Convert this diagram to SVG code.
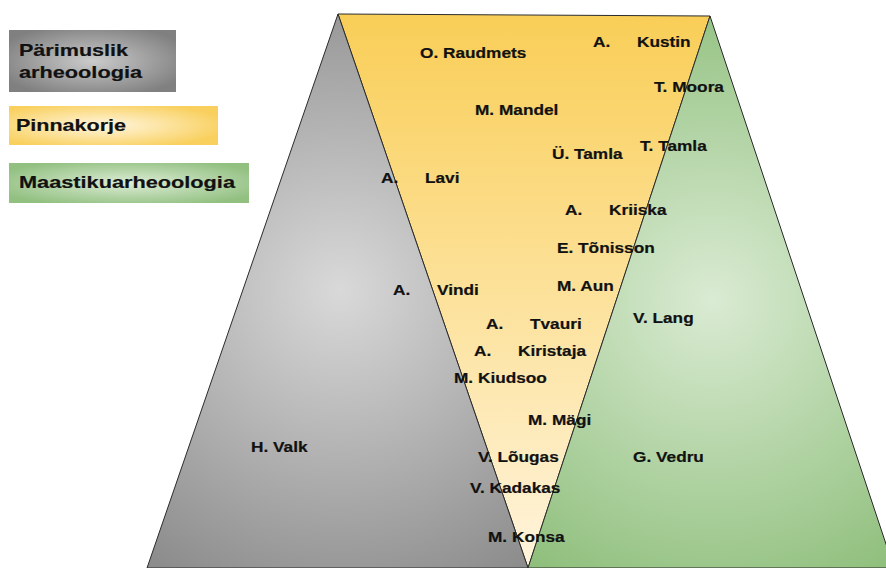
<svg xmlns="http://www.w3.org/2000/svg" width="886" height="568" viewBox="0 0 886 568">
<defs>
<radialGradient id="gGray" cx="340" cy="290" r="330" gradientUnits="userSpaceOnUse">
<stop offset="0" stop-color="#D9D9D9"/><stop offset="1" stop-color="#8C8C8C"/>
</radialGradient>
<linearGradient id="gYellow" x1="0" y1="14" x2="0" y2="568" gradientUnits="userSpaceOnUse">
<stop offset="0" stop-color="#F9CE57"/><stop offset="1" stop-color="#FFF4DC"/>
</linearGradient>
<radialGradient id="gGreen" cx="712" cy="300" r="320" gradientUnits="userSpaceOnUse">
<stop offset="0" stop-color="#DAEBD3"/><stop offset="1" stop-color="#8FBF7C"/>
</radialGradient>
<radialGradient id="lGray" cx="0.5" cy="0.5" r="0.6">
<stop offset="0" stop-color="#CBCBCB"/><stop offset="1" stop-color="#808080"/>
</radialGradient>
<radialGradient id="lYellow" cx="0.45" cy="0.5" r="0.6">
<stop offset="0" stop-color="#FFF6E0"/><stop offset="1" stop-color="#F9D05E"/>
</radialGradient>
<radialGradient id="lGreen" cx="0.5" cy="0.5" r="0.6">
<stop offset="0" stop-color="#DDEDD6"/><stop offset="1" stop-color="#92C081"/>
</radialGradient>
</defs>
<style>
.tri{stroke:#2b2b2b;stroke-width:1}
.lbl{font-family:"Liberation Sans",Arial,sans-serif;font-weight:bold;font-size:15px;fill:#111;stroke:#111;stroke-width:0.2}
.leg{font-family:"Liberation Sans",Arial,sans-serif;font-weight:bold;font-size:17px;fill:#111;stroke:#111;stroke-width:0.2}
</style>
<g id="pinnakorje-triangle"><polygon class="tri" points="338,14 710,16 528,568" fill="url(#gYellow)"/></g>
<g id="parimuslik-triangle"><polygon class="tri" points="338,14 147,568 528,568" fill="url(#gGray)"/></g>
<g id="maastik-triangle"><polygon class="tri" points="710,16 528,568 894,568" fill="url(#gGreen)"/></g>

<g id="legend-parimuslik">
<rect x="9" y="30" width="167" height="62" fill="url(#lGray)"/>
<text class="leg" x="19" y="56" textLength="109" lengthAdjust="spacingAndGlyphs">Pärimuslik</text>
<text class="leg" x="19" y="78" textLength="123" lengthAdjust="spacingAndGlyphs">arheoologia</text>
</g>
<g id="legend-pinnakorje">
<rect x="9" y="106" width="209" height="39" fill="url(#lYellow)"/>
<text class="leg" x="16" y="131" textLength="110" lengthAdjust="spacingAndGlyphs">Pinnakorje</text>
</g>
<g id="legend-maastik">
<rect x="9" y="163" width="240" height="40" fill="url(#lGreen)"/>
<text class="leg" x="19" y="188" textLength="216" lengthAdjust="spacingAndGlyphs">Maastikuarheoologia</text>
</g>

<g id="labels" transform="translate(0,1)">
<text class="lbl" transform="translate(420,57) scale(1.15,1)">O. Raudmets</text>
<text class="lbl" transform="translate(593,46) scale(1.15,1)">A.</text>
<text class="lbl" transform="translate(637,46) scale(1.15,1)">Kustin</text>
<text class="lbl" transform="translate(654,91) scale(1.15,1)">T. Moora</text>
<text class="lbl" transform="translate(475,114) scale(1.15,1)">M. Mandel</text>
<text class="lbl" transform="translate(552,158) scale(1.15,1)">Ü. Tamla</text>
<text class="lbl" transform="translate(640,150) scale(1.15,1)">T. Tamla</text>
<text class="lbl" transform="translate(381,182) scale(1.15,1)">A.</text>
<text class="lbl" transform="translate(425,182) scale(1.15,1)">Lavi</text>
<text class="lbl" transform="translate(565,214) scale(1.15,1)">A.</text>
<text class="lbl" transform="translate(609,214) scale(1.15,1)">Kriiska</text>
<text class="lbl" transform="translate(557,252) scale(1.15,1)">E. Tõnisson</text>
<text class="lbl" transform="translate(557,290) scale(1.15,1)">M. Aun</text>
<text class="lbl" transform="translate(393,294) scale(1.15,1)">A.</text>
<text class="lbl" transform="translate(437,294) scale(1.15,1)">Vindi</text>
<text class="lbl" transform="translate(633,322) scale(1.15,1)">V. Lang</text>
<text class="lbl" transform="translate(486,328) scale(1.15,1)">A.</text>
<text class="lbl" transform="translate(530,328) scale(1.15,1)">Tvauri</text>
<text class="lbl" transform="translate(474,355) scale(1.15,1)">A.</text>
<text class="lbl" transform="translate(518,355) scale(1.15,1)">Kiristaja</text>
<text class="lbl" transform="translate(454,382) scale(1.15,1)">M. Kiudsoo</text>
<text class="lbl" transform="translate(528,424) scale(1.15,1)">M. Mägi</text>
<text class="lbl" transform="translate(251,451) scale(1.15,1)">H. Valk</text>
<text class="lbl" transform="translate(478,461) scale(1.15,1)">V. Lõugas</text>
<text class="lbl" transform="translate(633,461) scale(1.15,1)">G. Vedru</text>
<text class="lbl" transform="translate(470,492) scale(1.15,1)">V. Kadakas</text>
<text class="lbl" transform="translate(488,541) scale(1.15,1)">M. Konsa</text>
</g>
</svg>
